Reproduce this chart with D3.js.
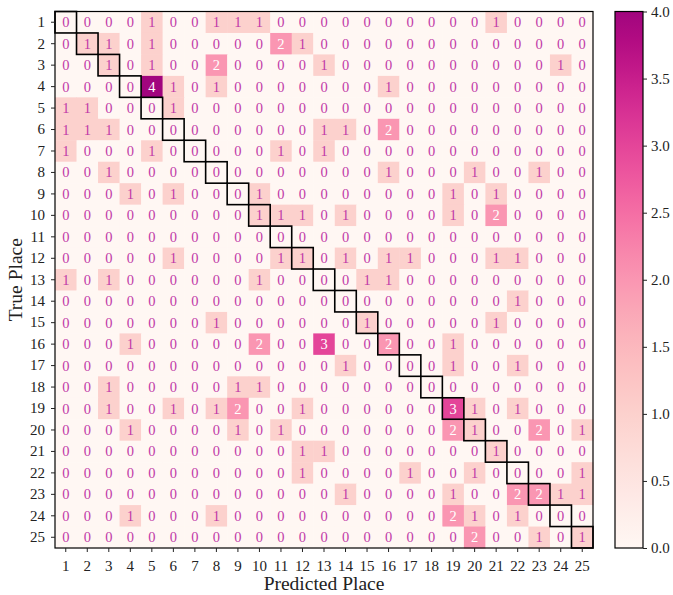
<!DOCTYPE html>
<html>
<head>
<meta charset="utf-8">
<script src="https://cdn.jsdelivr.net/npm/d3@7"></script>
<style>
  html, body { margin: 0; padding: 0; background: #fff; }
  svg text { font-family: "Liberation Serif", serif !important; }
</style>
</head>
<body>
<svg id="chart" width="673" height="595"></svg>
<script>
// Row and column labels
const places = d3.range(1, 26);
// Confusion matrix: rows = true place, columns = predicted place
const matrix = [
  [0,0,0,0,1,0,0,1,1,1,0,0,0,0,0,0,0,0,0,0,1,0,0,0,0],
  [0,1,1,0,1,0,0,0,0,0,2,1,0,0,0,0,0,0,0,0,0,0,0,0,0],
  [0,0,1,0,1,0,0,2,0,0,0,0,1,0,0,0,0,0,0,0,0,0,0,1,0],
  [0,0,0,0,4,1,0,1,0,0,0,0,0,0,0,1,0,0,0,0,0,0,0,0,0],
  [1,1,0,0,0,1,0,0,0,0,0,0,0,0,0,0,0,0,0,0,0,0,0,0,0],
  [1,1,1,0,0,0,0,0,0,0,0,0,1,1,0,2,0,0,0,0,0,0,0,0,0],
  [1,0,0,0,1,0,0,0,0,0,1,0,1,0,0,0,0,0,0,0,0,0,0,0,0],
  [0,0,1,0,0,0,0,0,0,0,0,0,0,0,0,1,0,0,0,1,0,0,1,0,0],
  [0,0,0,1,0,1,0,0,0,1,0,0,0,0,0,0,0,0,1,0,1,0,0,0,0],
  [0,0,0,0,0,0,0,0,0,1,1,1,0,1,0,0,0,0,1,0,2,0,0,0,0],
  [0,0,0,0,0,0,0,0,0,0,0,0,0,0,0,0,0,0,0,0,0,0,0,0,0],
  [0,0,0,0,0,1,0,0,0,0,1,1,0,1,0,1,1,0,0,0,1,1,0,0,0],
  [1,0,1,0,0,0,0,0,0,1,0,0,0,0,1,1,0,0,0,0,0,0,0,0,0],
  [0,0,0,0,0,0,0,0,0,0,0,0,0,0,0,0,0,0,0,0,0,1,0,0,0],
  [0,0,0,0,0,0,0,1,0,0,0,0,0,0,1,0,0,0,0,0,1,0,0,0,0],
  [0,0,0,1,0,0,0,0,0,2,0,0,3,0,0,2,0,0,1,0,0,0,0,0,0],
  [0,0,0,0,0,0,0,0,0,0,0,0,0,1,0,0,0,0,1,0,0,1,0,0,0],
  [0,0,1,0,0,0,0,0,1,1,0,0,0,0,0,0,0,0,0,0,0,0,0,0,0],
  [0,0,1,0,0,1,0,1,2,0,0,1,0,0,0,0,0,0,3,1,0,1,0,0,0],
  [0,0,0,1,0,0,0,0,1,0,1,0,0,0,0,0,0,0,2,1,0,0,2,0,1],
  [0,0,0,0,0,0,0,0,0,0,0,1,1,0,0,0,0,0,0,0,1,0,0,0,0],
  [0,0,0,0,0,0,0,0,0,0,0,1,0,0,0,0,1,0,0,1,0,0,0,0,1],
  [0,0,0,0,0,0,0,0,0,0,0,0,0,1,0,0,0,0,1,0,0,2,2,1,1],
  [0,0,0,1,0,0,0,1,0,0,0,0,0,0,0,0,0,0,2,1,0,1,0,0,0],
  [0,0,0,0,0,0,0,0,0,0,0,0,0,0,0,0,0,0,0,2,0,0,1,0,1]
];
const colorTicks = [0.0, 0.5, 1.0, 1.5, 2.0, 2.5, 3.0, 3.5, 4.0];
const xTitle = "Predicted Place";
const yTitle = "True Place";

const FONT = '"Liberation Serif", serif';
const svg = d3.select("#chart");
const plot = { left: 55, top: 11.5, right: 593, bottom: 548 };
const cbar = { left: 615, right: 643 };
const vmax = 4;

const x = d3.scaleBand().domain(places).range([plot.left, plot.right]).padding(0);
const y = d3.scaleBand().domain(places).range([plot.top, plot.bottom]).padding(0);
const color = d3.scaleSequential(t => d3.interpolateRdPu(t * 0.78)).domain([0, vmax]);

const cells = [];
matrix.forEach((row, i) => row.forEach((v, j) => cells.push({ r: places[i], c: places[j], v })));

const g = svg.append("g");
g.selectAll("rect.cell").data(cells).join("rect")
  .attr("class", "cell")
  .attr("x", d => x(d.c)).attr("y", d => y(d.r))
  .attr("width", x.bandwidth() + 0.5).attr("height", y.bandwidth() + 0.5)
  .attr("fill", d => color(d.v));

g.selectAll("text.val").data(cells).join("text")
  .attr("class", "val")
  .attr("x", d => x(d.c) + x.bandwidth() / 2)
  .attr("y", d => y(d.r) + y.bandwidth() / 2)
  .attr("text-anchor", "middle").attr("dominant-baseline", "central")
  .attr("font-family", FONT)
  .attr("font-size", 14.5)
  .attr("fill", d => d.v >= 2 ? "#ffffff" : "#c13aa8")
  .text(d => d.v);

// diagonal outlines
g.selectAll("rect.diag").data(places).join("rect")
  .attr("class", "diag")
  .attr("x", d => x(d)).attr("y", d => y(d))
  .attr("width", x.bandwidth()).attr("height", y.bandwidth())
  .attr("fill", "none").attr("stroke", "#000").attr("stroke-width", 1.6);

// frame
svg.append("rect").attr("x", plot.left).attr("y", plot.top)
  .attr("width", plot.right - plot.left).attr("height", plot.bottom - plot.top)
  .attr("fill", "none").attr("stroke", "#000").attr("stroke-width", 1.2);

// axes
const xAxis = svg.append("g").attr("transform", `translate(0,${plot.bottom})`)
  .call(d3.axisBottom(x).tickSizeOuter(0).tickSize(4).tickPadding(8));
const yAxis = svg.append("g").attr("transform", `translate(${plot.left},0)`)
  .call(d3.axisLeft(y).tickSizeOuter(0).tickSize(4).tickPadding(6));
[xAxis, yAxis].forEach(a => {
  a.attr("font-family", FONT);
  a.select(".domain").remove();
  a.selectAll("text").attr("font-size", 15).attr("fill", "#222").attr("font-family", FONT);
  a.selectAll("line").attr("stroke", "#222");
});

svg.append("text").attr("x", (plot.left + plot.right) / 2).attr("y", 590)
  .attr("text-anchor", "middle").attr("font-size", 19.5).attr("font-family", FONT)
  .attr("fill", "#222").text(xTitle);
svg.append("text").attr("transform", `translate(22,${(plot.top + plot.bottom) / 2}) rotate(-90)`)
  .attr("text-anchor", "middle").attr("font-size", 19.5).attr("font-family", FONT)
  .attr("fill", "#222").text(yTitle);

// colorbar
const defs = svg.append("defs");
const grad = defs.append("linearGradient").attr("id", "cgrad")
  .attr("x1", 0).attr("y1", 1).attr("x2", 0).attr("y2", 0);
d3.range(0, 1.0001, 0.05).forEach(t => {
  grad.append("stop").attr("offset", t).attr("stop-color", color(t * vmax));
});
const cy = d3.scaleLinear().domain([0, vmax]).range([plot.bottom, plot.top]);
svg.append("rect").attr("x", cbar.left).attr("y", plot.top)
  .attr("width", cbar.right - cbar.left).attr("height", plot.bottom - plot.top)
  .attr("fill", "url(#cgrad)").attr("stroke", "#000").attr("stroke-width", 1.2);
const cAxis = svg.append("g").attr("transform", `translate(${cbar.right},0)`)
  .call(d3.axisRight(cy).tickValues(colorTicks).tickFormat(d3.format(".1f")).tickSize(4).tickPadding(4));
cAxis.attr("font-family", FONT);
cAxis.select(".domain").remove();
cAxis.selectAll("text").attr("font-size", 15).attr("fill", "#222").attr("font-family", FONT);
cAxis.selectAll("line").attr("stroke", "#222");
</script>
</body>
</html>
